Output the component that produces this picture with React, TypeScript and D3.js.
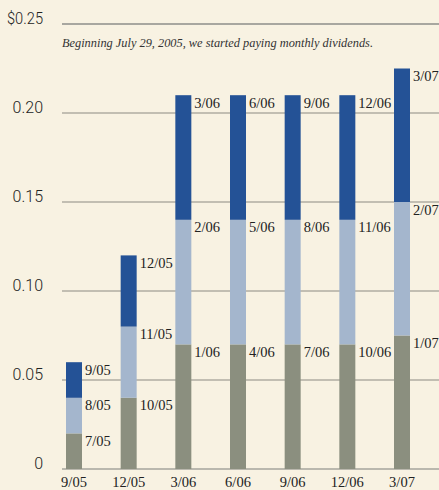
import React from "react";
import * as d3 from "d3";

const categories = ["9/05", "12/05", "3/06", "6/06", "9/06", "12/06", "3/07"];
const month1 = [0.02, 0.04, 0.07, 0.07, 0.07, 0.07, 0.075];
const month2 = [0.02, 0.04, 0.07, 0.07, 0.07, 0.07, 0.075];
const month3 = [0.02, 0.04, 0.07, 0.07, 0.07, 0.07, 0.075];
const month1Labels = ["7/05", "10/05", "1/06", "4/06", "7/06", "10/06", "1/07"];
const month2Labels = ["8/05", "11/05", "2/06", "5/06", "8/06", "11/06", "2/07"];
const month3Labels = ["9/05", "12/05", "3/06", "6/06", "9/06", "12/06", "3/07"];
const yTicks = [0, 0.05, 0.1, 0.15, 0.2, 0.25];
const yTickLabels = ["0", "0.05", "0.10", "0.15", "0.20", "$0.25"];
const note = "Beginning July 29, 2005, we started paying monthly dividends.";

const W = 439;
const H = 490;
const colors = ["#8b8f7f", "#a4b6cd", "#245296"];

export default function App() {
  const x = d3.scalePoint<string>().domain(categories).range([74, 402]);
  const y = d3.scaleLinear().domain([0, 0.25]).range([469, 24]);
  const barW = 16;

  const stack = d3
    .stack<number>()
    .keys(["0", "1", "2"])
    .value((i, k) => [month1, month2, month3][+k][i]);
  const series = stack(categories.map((_, i) => i));
  const labelSets = [month1Labels, month2Labels, month3Labels];

  return (
    <svg
      width={W}
      height={H}
      style={{ position: "absolute", left: 0, top: 0, display: "block" }}
    >
      <rect x={0} y={0} width={W} height={H} fill="#f8f2e2" />
      {yTicks.map((t, i) => {
        const isTop = i === yTicks.length - 1;
        const isZero = i === 0;
        return (
          <g key={"t" + i}>
            <line
              x1={62}
              x2={W}
              y1={y(t)}
              y2={y(t)}
              stroke={isTop ? "#8e8e8a" : isZero ? "#a6a49c" : "#c2beb2"}
              strokeWidth={isTop ? 1.5 : isZero ? 1.5 : 2}
            />
            <text
              x={43}
              y={y(t)}
              textAnchor="end"
              fontFamily="Roboto, 'Liberation Sans', sans-serif"
              fontWeight={300}
              fontSize={16}
              fill="#222"
              textLength={i === yTicks.length - 1 ? 36 : undefined}
              lengthAdjust="spacingAndGlyphs"
            >
              {yTickLabels[i]}
            </text>
          </g>
        );
      })}
      <text
        x={62}
        y={47}
        fontFamily="'Liberation Serif', serif"
        fontStyle="italic"
        fontSize={13}
        fill="#333"
        textLength={311}
        lengthAdjust="spacingAndGlyphs"
      >
        {note}
      </text>
      {series.map((s, si) =>
        s.map((d, i) => {
          const cx = x(categories[i])!;
          return (
            <g key={`b${si}-${i}`}>
              <rect
                x={cx - barW / 2}
                y={y(d[1])}
                width={barW}
                height={y(d[0]) - y(d[1])}
                fill={colors[si]}
              />
              <text
                x={cx + barW / 2 + 3}
                y={y(d[1]) + 12.5}
                fontFamily="'Liberation Serif', serif"
                fontSize={14.5}
                fill="#222"
              >
                {labelSets[si][i]}
              </text>
            </g>
          );
        })
      )}
      {categories.map((c) => (
        <text
          key={"x" + c}
          x={x(c)!}
          y={487}
          textAnchor="middle"
          fontFamily="'Liberation Serif', serif"
          fontSize={14.5}
          fill="#222"
        >
          {c}
        </text>
      ))}
    </svg>
  );
}
